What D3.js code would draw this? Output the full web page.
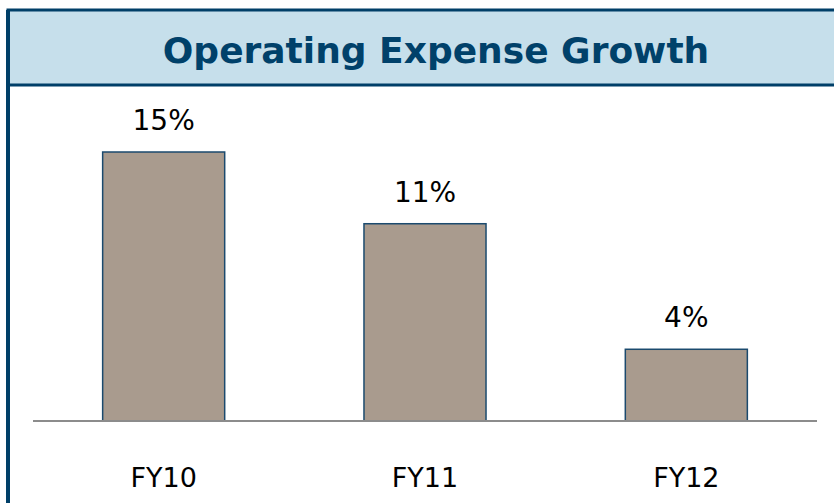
<!doctype html>
<html>
    <head>
        <script src="https://d3js.org/d3.v7.min.js"></script>
        <style>
            body { margin: 0; background: #fff; }
            svg { display: block; }
            text { font-family: "DejaVu Sans", Verdana, sans-serif; }
        </style>
    </head>
    <body>
        <svg id="chart" width="834" height="503"></svg>

        <script>
            var title = "Operating Expense Growth";
            var years = ["FY10", "FY11", "FY12"];
            var growth = [15, 11, 4];
            var labels = ["15%", "11%", "4%"];

            var svg = d3.select("#chart");

            // frame: header band + left rule
            svg.append("rect")
                .attr("x", 8).attr("y", 10)
                .attr("width", 840).attr("height", 75)
                .style("fill", "#c6dfeb")
                .style("stroke", "#003f68")
                .style("stroke-width", 3);

            svg.append("line")
                .attr("x1", 8).attr("x2", 8)
                .attr("y1", 10).attr("y2", 510)
                .style("stroke", "#003f68")
                .style("stroke-width", 4);

            svg.append("text")
                .attr("x", 436).attr("y", 63)
                .attr("text-anchor", "middle")
                .style("font-size", "36px")
                .style("font-weight", "bold")
                .style("fill", "#00416a")
                .text(title);

            var xScale = d3.scaleBand()
                .domain(years)
                .range([33, 817])
                .paddingInner(0.533)
                .paddingOuter(0.2665);

            var yScale = d3.scaleLinear().domain([0, 15]).range([421, 152]);

            svg.selectAll("rect.bar")
                .data(growth)
                .enter()
                .append("rect")
                    .attr("class", "bar")
                    .attr("x", (d, i) => xScale(years[i]))
                    .attr("y", d => yScale(d))
                    .attr("width", xScale.bandwidth())
                    .attr("height", d => yScale(0) - yScale(d))
                    .style("fill", "#a99b8e")
                    .style("stroke", "#1b4a6e")
                    .style("stroke-width", 1.5);

            var xAxis = d3.axisBottom(xScale).tickSize(0).tickPadding(66);

            var axisG = svg.append("g")
                .attr("transform", "translate(0," + yScale(0) + ")")
                .call(xAxis);

            axisG.select("path.domain")
                .attr("d", "M33,0H817")
                .style("stroke", "#8c8c8c")
                .style("stroke-width", 2);

            axisG.selectAll("text")
                .style("font-size", "27px")
                .style("fill", "#000")
                .attr("dy", "0");

            svg.selectAll("text.value")
                .data(growth)
                .enter()
                .append("text")
                    .attr("class", "value")
                    .attr("x", (d, i) => xScale(years[i]) + xScale.bandwidth() / 2)
                    .attr("y", d => yScale(d) - 22)
                    .attr("text-anchor", "middle")
                    .style("font-size", "28px")
                    .style("fill", "#000")
                    .text((d, i) => labels[i]);
        </script>
    </body>
</html>
